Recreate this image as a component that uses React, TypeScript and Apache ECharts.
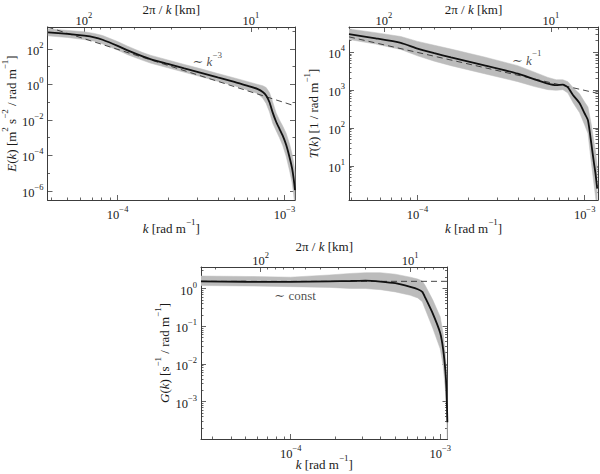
import React, { useEffect, useRef } from "react";
import * as echarts from "echarts";

// ---------- Panel 1: E(k) ----------
const kE = [3.83e-5, 5.01e-5, 6.31e-5, 7.24e-5, 8.13e-5, 1.0e-4, 1.148e-4, 1.413e-4, 1.585e-4, 2.0e-4, 2.51e-4, 3.16e-4, 3.98e-4, 5.01e-4, 6.03e-4, 6.92e-4, 7.41e-4, 7.76e-4, 8.13e-4, 8.51e-4, 8.91e-4, 9.33e-4, 9.77e-4, 1.023e-3, 1.072e-3, 1.109e-3, 1.135e-3, 1.156e-3];
const E = [871, 708, 562, 457, 331, 151, 83.2, 38.0, 26.3, 14.5, 8.13, 4.57, 2.51, 1.41, 0.832, 0.55, 0.38, 0.24, 0.1, 0.0251, 0.00794, 0.00316, 0.00126, 3.98e-4, 7.94e-5, 2.0e-5, 5.0e-6, 1.12e-6];
const E_hi = [1380, 1120, 933, 759, 575, 263, 145, 63.1, 43.7, 24.0, 13.5, 7.59, 4.17, 2.34, 1.45, 1.0, 0.851, 0.676, 0.355, 0.1, 0.0251, 0.01, 0.00447, 0.00178, 4.47e-4, 1.26e-4, 3.98e-5, 1.12e-5];
const E_lo = [550, 447, 339, 275, 191, 87.1, 47.9, 22.9, 15.8, 8.71, 4.9, 2.75, 1.51, 0.851, 0.479, 0.302, 0.17, 0.0851, 0.0282, 0.00631, 0.00251, 0.001, 3.55e-4, 8.91e-5, 1.41e-5, 3.16e-6, 6.31e-7, 1.12e-7];
const dashK_E = [3.8e-5, 1.156e-3];
const dashE = [1740, 0.0617];

// ---------- Panel 2: T(k) ----------
const kT = [3.89e-5, 5.62e-5, 7.94e-5, 1.0e-4, 1.26e-4, 1.585e-4, 2.51e-4, 3.98e-4, 5.01e-4, 6.03e-4, 6.76e-4, 7.41e-4, 7.94e-4, 8.51e-4, 9.33e-4, 1.0e-3, 1.047e-3, 1.096e-3, 1.135e-3, 1.161e-3, 1.189e-3];
const T = [29500, 22900, 17400, 12300, 9330, 7240, 4470, 2690, 1910, 1480, 1350, 1380, 1170, 741, 447, 240, 158, 38.9, 12.6, 6.31, 2.51];
const T_hi = [40700, 32400, 25700, 19100, 15100, 12000, 7410, 4370, 2950, 2140, 1860, 1860, 1660, 1170, 794, 479, 355, 123, 44.7, 25.1, 10.0];
const T_lo = [21400, 16200, 11700, 7940, 5750, 4370, 2690, 1660, 1230, 1020, 977, 1020, 832, 468, 251, 120, 70.8, 12.3, 3.55, 1.58, 0.631];
const dashK_T = [3.89e-5, 1.202e-3];
const dashT = [25100, 812];

// ---------- Panel 3: G(k) ----------
const kG = [2.51e-5, 5.01e-5, 1.0e-4, 1.82e-4, 2.51e-4, 3.16e-4, 3.98e-4, 5.01e-4, 6.31e-4, 7.08e-4, 7.59e-4, 7.94e-4, 8.91e-4, 1.0e-3, 1.047e-3, 1.084e-3, 1.102e-3, 1.117e-3];
const G = [1.55, 1.51, 1.5, 1.55, 1.58, 1.62, 1.53, 1.38, 1.1, 0.955, 0.813, 0.575, 0.219, 0.0661, 0.024, 0.00631, 0.002, 2.82e-4];
const G_hi = [2.14, 2.09, 2.0, 2.29, 2.51, 2.63, 2.63, 2.4, 2.0, 1.78, 1.58, 1.2, 0.501, 0.178, 0.0631, 0.0178, 0.00631, 0.001];
const G_lo = [1.2, 1.17, 1.12, 1.07, 1.0, 1.0, 0.933, 0.813, 0.661, 0.562, 0.447, 0.282, 0.0891, 0.0251, 0.00891, 0.002, 6.31e-4, 1.0e-4];
const dashK_G = [2.51e-5, 1.119e-3];
const dashG = [1.55, 1.55];

// ---------- ticks / labels ----------
const K_LABELS = [1e-4, 1e-3];
const KM_LABELS = [10, 100];
const E_LABELS = [1e-6, 1e-4, 1e-2, 1, 1e2];
const E_MINOR = [1e-5, 1e-3, 1e-1, 10, 1e3];
const T_LABELS = [10, 100, 1e3, 1e4];
const G_LABELS = [1e-3, 1e-2, 1e-1, 1];

// annotation anchors (data coords)
const NOTE_E = [3.44e-4, 26];
const NOTE_T = [4.5e-4, 7000];
const NOTE_G = [1.07e-4, 0.75];

function minors(lo: number, hi: number): number[] {
  const out: number[] = [];
  for (let n = lo; n <= hi; n++)
    for (let j = 2; j <= 9; j++) out.push(+(j * Math.pow(10, n)).toPrecision(3));
  return out;
}
const K_MINOR = minors(-5, -4);
const KM_MINOR = minors(0, 2);

const SERIF = "Liberation Serif, DejaVu Serif, serif";
const INK = "#1a1a1a";
const FRAME = "#3c3c3c";
const BAND = "#bcbcbc";

const RICH: any = {
  r: { fontFamily: SERIF, fontSize: 13, lineHeight: 18, verticalAlign: "bottom", color: INK },
  i: { fontFamily: SERIF, fontSize: 13, fontStyle: "italic", lineHeight: 18, verticalAlign: "bottom", color: INK },
  s: { fontFamily: SERIF, fontSize: 9, lineHeight: 10, verticalAlign: "top", color: INK },
};
const RICH_LBL: any = {
  r: { fontFamily: SERIF, fontSize: 12.5, lineHeight: 17, verticalAlign: "bottom", color: INK },
  s: { fontFamily: SERIF, fontSize: 8.5, lineHeight: 10, verticalAlign: "top", color: INK },
};

const sup = (e: number) => (e < 0 ? "−" + Math.abs(e) : String(e));
const powLabel = (v: number) => `{r|10}{s|${sup(Math.round(Math.log10(v)))}}`;

const PANELS = [
  {
    grid: { left: 47.5, top: 27, width: 247.5, height: 173 },
    kRange: [3.8e-5, 1.156e-3], yRange: [3.09e-7, 1738],
    yMajor: E_LABELS, yLabels: E_LABELS, yMinor: E_MINOR,
    yName: "{i|E}{r|(}{i|k}{r|) [m}{s|2}{r| s}{s|−2}{r| / rad m}{s|−1}{r|]}", yGap: 27,
    bottomGap: 17, topGap: 11,
    k: kE, v: E, lo: E_lo, hi: E_hi, dk: dashK_E, dv: dashE,
    note: NOTE_E, noteText: "{r|∼ }{i|k}{s|−3}",
  },
  {
    grid: { left: 349, top: 27, width: 249, height: 173 },
    kRange: [3.89e-5, 1.202e-3], yRange: [1.26, 45700],
    yMajor: T_LABELS, yLabels: T_LABELS, yMinor: minors(0, 4),
    yName: "{i|T}{r|(}{i|k}{r|) [1 / rad m}{s|−1}{r|]}", yGap: 29,
    bottomGap: 17, topGap: 11,
    k: kT, v: T, lo: T_lo, hi: T_hi, dk: dashK_T, dv: dashT,
    note: NOTE_T, noteText: "{r|∼ }{i|k}{s|−1}",
  },
  {
    grid: { left: 201, top: 267, width: 246.5, height: 172 },
    kRange: [2.51e-5, 1.119e-3], yRange: [1.02e-4, 3.72],
    yMajor: G_LABELS, yLabels: G_LABELS, yMinor: minors(-4, 0),
    yName: "{i|G}{r|(}{i|k}{r|) [s}{s|−1}{r| / rad m}{s|−1}{r|]}", yGap: 30,
    bottomGap: 14, topGap: 14,
    k: kG, v: G, lo: G_lo, hi: G_hi, dk: dashK_G, dv: dashG,
    note: NOTE_G, noteText: "{r|∼ const}",
  },
];

function buildOption() {
  const xAxis: any[] = [];
  const yAxis: any[] = [];
  const series: any[] = [];
  const tickStyle = { color: FRAME, width: 0.8 };

  PANELS.forEach((p, gi) => {
    const [k0, k1] = p.kRange;
    const [y0, y1] = p.yRange;
    const km0 = (2 * Math.PI) / (k1 * 1000);
    const km1 = (2 * Math.PI) / (k0 * 1000);
    const common = {
      gridIndex: gi, type: "log", logBase: 10,
      splitLine: { show: false }, minorTick: { show: false }, minorSplitLine: { show: false },
      silent: true,
    };
    const majorAxis = (position: string, min: number, max: number, ticks: number[], labels: number[] | null, name: string, nameGap: number, margin: number, inverse = false, moveOverlap = true) => ({
      ...common, position, min, max, inverse,
      axisLine: { show: true, onZero: false, lineStyle: { color: FRAME, width: 1 } },
      axisTick: { show: true, inside: true, length: 5, customValues: ticks, lineStyle: tickStyle },
      axisLabel: labels
        ? { show: true, customValues: labels, formatter: powLabel, margin, rich: RICH_LBL, fontFamily: SERIF }
        : { show: false },
      name, nameLocation: "middle", nameGap, nameMoveOverlap: moveOverlap,
      nameTextStyle: { rich: RICH, fontFamily: SERIF, fontSize: 13, color: INK },
    });
    const minorAxis = (position: string, min: number, max: number, ticks: number[], inverse = false) => ({
      ...common, position, min, max, inverse,
      axisLine: { show: false, onZero: false },
      axisTick: { show: true, inside: true, length: 2.5, customValues: ticks, lineStyle: tickStyle },
      axisLabel: { show: false },
    });

    xAxis.push(majorAxis("bottom", k0, k1, K_LABELS, K_LABELS, "{i|k}{r| [rad m}{s|−1}{r|]}", p.bottomGap, 4, false, false));
    xAxis.push(minorAxis("bottom", k0, k1, K_MINOR));
    xAxis.push(majorAxis("top", km0, km1, KM_LABELS, KM_LABELS, "{r|2π / }{i|k}{r| [km]}", p.topGap, 0, true, false));
    xAxis.push(minorAxis("top", km0, km1, KM_MINOR, true));
    yAxis.push(majorAxis("left", y0, y1, p.yMajor, p.yLabels, p.yName, p.yGap, 4));
    yAxis.push(minorAxis("left", y0, y1, p.yMinor));
    yAxis.push(majorAxis("right", y0, y1, p.yMajor, null, "", 0, 4));
    yAxis.push(minorAxis("right", y0, y1, p.yMinor));

    const xi = gi * 4;
    const yi = gi * 4;
    const kk = p.k, lo = p.lo, hi = p.hi;
    series.push({
      type: "custom", xAxisIndex: xi, yAxisIndex: yi, clip: true, silent: true, z: 1,
      data: [[kk[0], p.v[0]]],
      renderItem: (params: any, api: any) => {
        const pts: number[][] = [];
        for (let i = 0; i < kk.length; i++) pts.push(api.coord([kk[i], hi[i]]));
        for (let i = kk.length - 1; i >= 0; i--) pts.push(api.coord([kk[i], lo[i]]));
        return { type: "polygon", shape: { points: pts }, style: { fill: BAND, stroke: BAND, lineWidth: 0.5 } };
      },
    });
    series.push({
      type: "line", xAxisIndex: xi, yAxisIndex: yi, silent: true, z: 2,
      data: p.dk.map((k, i) => [k, p.dv[i]]),
      symbol: "none", lineStyle: { color: "#333", width: 0.9, type: [6, 4] },
    });
    series.push({
      type: "line", xAxisIndex: xi, yAxisIndex: yi, silent: true, z: 3,
      data: kk.map((k, i) => [k, p.v[i]]),
      symbol: "none", smooth: 0.2, lineStyle: { color: "#111", width: 1.8 },
    });
    series.push({
      type: "scatter", xAxisIndex: xi, yAxisIndex: yi, silent: true, z: 4,
      data: [p.note], symbolSize: 1, itemStyle: { color: "rgba(0,0,0,0)" },
      label: { show: true, position: "inside", formatter: p.noteText, rich: RICH, fontFamily: SERIF },
    });
  });

  return {
    animation: false,
    backgroundColor: "#ffffff",
    textStyle: { fontFamily: SERIF },
    grid: PANELS.map((p) => ({ ...p.grid, containLabel: false, outerBoundsMode: "none" })),
    xAxis,
    yAxis,
    series,
  };
}

export default function App() {
  const ref = useRef<HTMLDivElement>(null);
  useEffect(() => {
    if (!ref.current) return;
    const chart = echarts.init(ref.current, undefined, { renderer: "svg" });
    chart.setOption(buildOption() as any);
    return () => chart.dispose();
  }, []);
  return (
    <div
      ref={ref}
      style={{ position: "fixed", left: 0, top: 0, width: 600, height: 474, background: "#fff" }}
    />
  );
}
